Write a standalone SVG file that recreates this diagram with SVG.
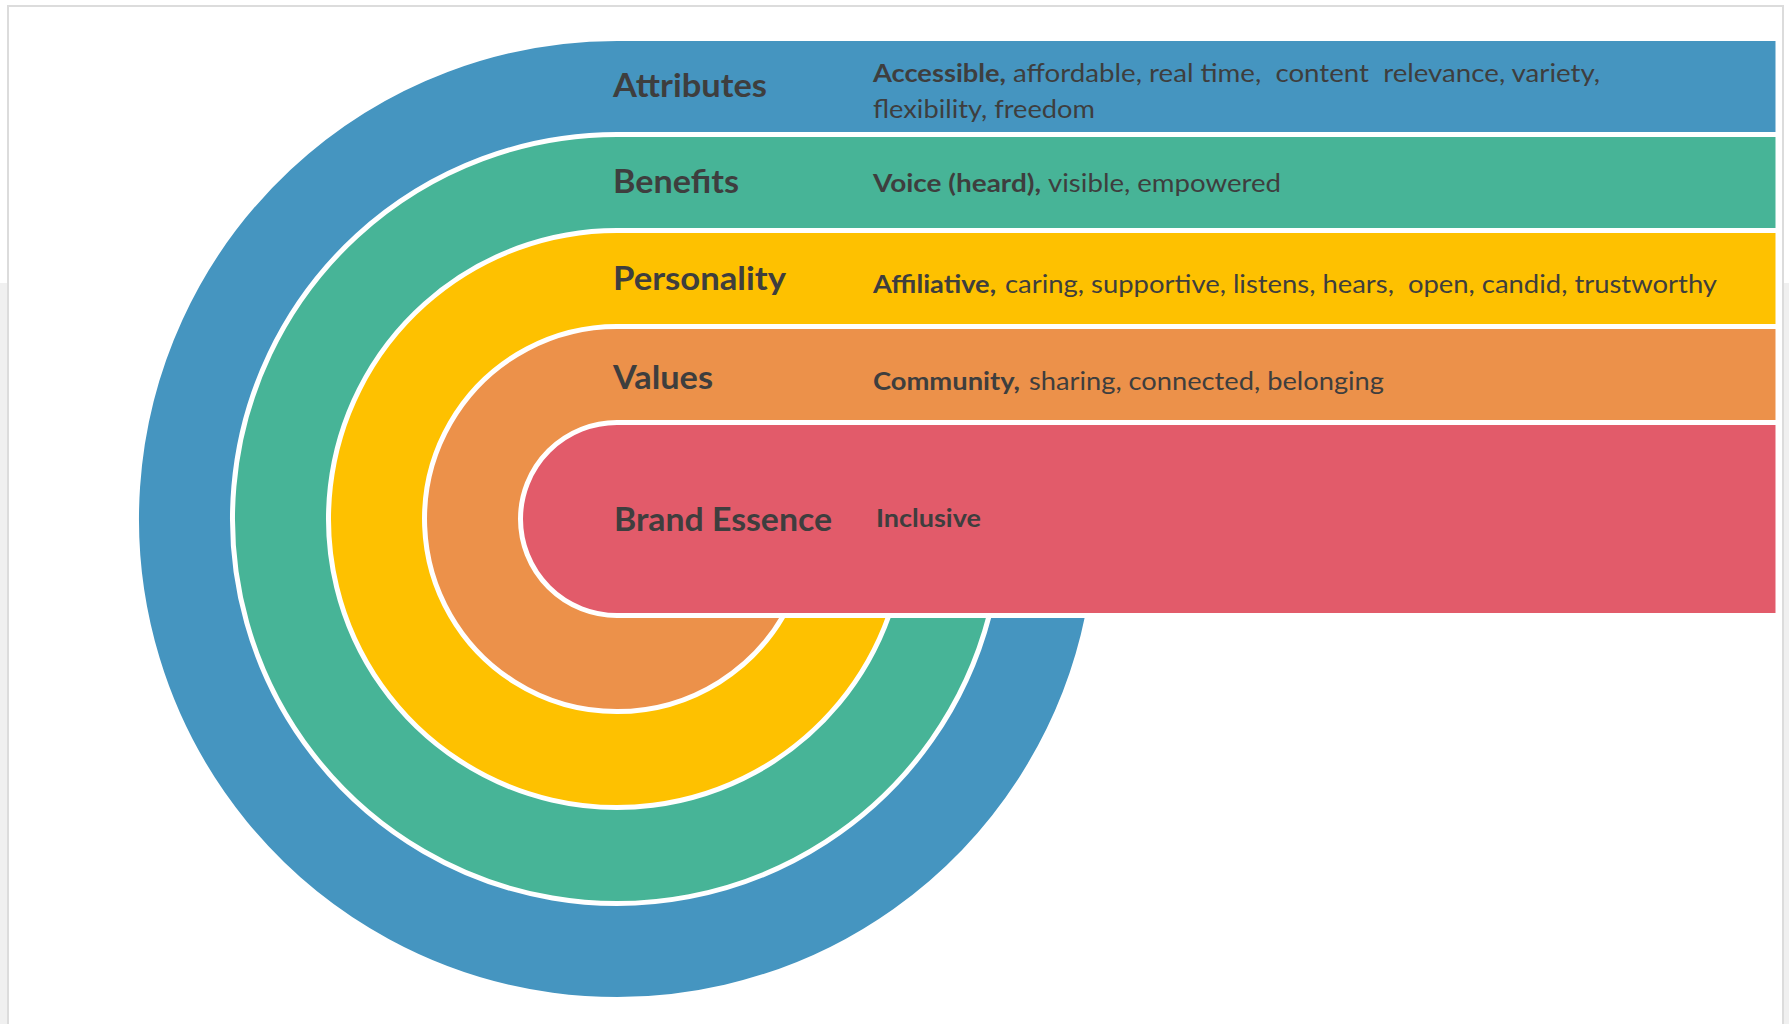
<svg xmlns="http://www.w3.org/2000/svg" width="1789" height="1024" viewBox="0 0 1789 1024">
  <style>
    .band { stroke: #ffffff; stroke-width: 5; stroke-linejoin: round; }
    .lbl { font-family: Lato, "Open Sans", "Liberation Sans", sans-serif; font-weight: 700; font-size: 32.5px; fill: #3e3e3e; }
    .desc { font-family: Lato, "Open Sans", "Liberation Sans", sans-serif; font-weight: 400; font-size: 25px; fill: #3e3e3e; white-space: pre; }
    .desc.b { font-weight: 700; }
    .frame { fill: none; stroke: #dcdcdc; stroke-width: 2; }
  </style>

  <!-- page background and slide frame -->
  <rect x="0" y="0" width="1789" height="1024" fill="#ffffff"/>
  <rect x="0" y="283" width="7" height="741" fill="#f0f0f0"/>
  <rect x="1784" y="283" width="5" height="741" fill="#f0f0f0"/>
  <path class="frame" d="M8 1024 V6 H1783 V1024"/>

  <!-- outer ring: Attributes -->
  <g id="attributes">
    <path class="band" fill="#4595C0" d="M1778 38.5 H617 A480.5 480.5 0 1 0 1087.7 615.5 H1778 Z"/>
    <text class="lbl" x="613" y="96.7" textLength="154" lengthAdjust="spacingAndGlyphs">Attributes</text>
    <text class="desc b" x="873" y="82.3" textLength="133" lengthAdjust="spacingAndGlyphs">Accessible,</text>
    <text class="desc" x="1013" y="82.3" textLength="587" lengthAdjust="spacingAndGlyphs">affordable, real time,  content  relevance, variety,</text>
    <text class="desc" x="873" y="118.3" textLength="222" lengthAdjust="spacingAndGlyphs">flexibility, freedom</text>
  </g>

  <!-- Benefits -->
  <g id="benefits">
    <path class="band" fill="#47B497" d="M1778 134.5 H617 A384.5 384.5 0 1 0 989.2 615.5 H1778 Z"/>
    <text class="lbl" x="613" y="192.7" textLength="126" lengthAdjust="spacingAndGlyphs">Benefits</text>
    <text class="desc b" x="873" y="191.7" textLength="168" lengthAdjust="spacingAndGlyphs">Voice (heard),</text>
    <text class="desc" x="1048" y="191.7" textLength="233" lengthAdjust="spacingAndGlyphs">visible, empowered</text>
  </g>

  <!-- Personality -->
  <g id="personality">
    <path class="band" fill="#FEC100" d="M1778 230.5 H617 A288.5 288.5 0 1 0 888.9 615.5 H1778 Z"/>
    <text class="lbl" x="613" y="290" textLength="173" lengthAdjust="spacingAndGlyphs">Personality</text>
    <text class="desc b" x="873" y="293.3" textLength="123" lengthAdjust="spacingAndGlyphs">Affiliative,</text>
    <text class="desc" x="1005" y="293.3" textLength="712" lengthAdjust="spacingAndGlyphs">caring, supportive, listens, hears,  open, candid, trustworthy</text>
  </g>

  <!-- Values -->
  <g id="values">
    <path class="band" fill="#EC914A" d="M1778 326.5 H617 A192.5 192.5 0 1 0 783.6 615.5 H1778 Z"/>
    <text class="lbl" x="613" y="389.3" textLength="100" lengthAdjust="spacingAndGlyphs">Values</text>
    <text class="desc b" x="873" y="390" textLength="147" lengthAdjust="spacingAndGlyphs">Community,</text>
    <text class="desc" x="1029" y="390" textLength="355" lengthAdjust="spacingAndGlyphs">sharing, connected, belonging</text>
  </g>

  <!-- core: Brand Essence -->
  <g id="brand-essence">
    <path class="band" fill="#E25B6A" d="M1778 422.5 H617 A96.5 96.5 0 0 0 617 615.5 H1778 Z"/>
    <text class="lbl" x="614" y="530.7" textLength="218" lengthAdjust="spacingAndGlyphs">Brand Essence</text>
    <text class="desc b" x="876" y="526.7" textLength="105" lengthAdjust="spacingAndGlyphs">Inclusive</text>
  </g>
</svg>
